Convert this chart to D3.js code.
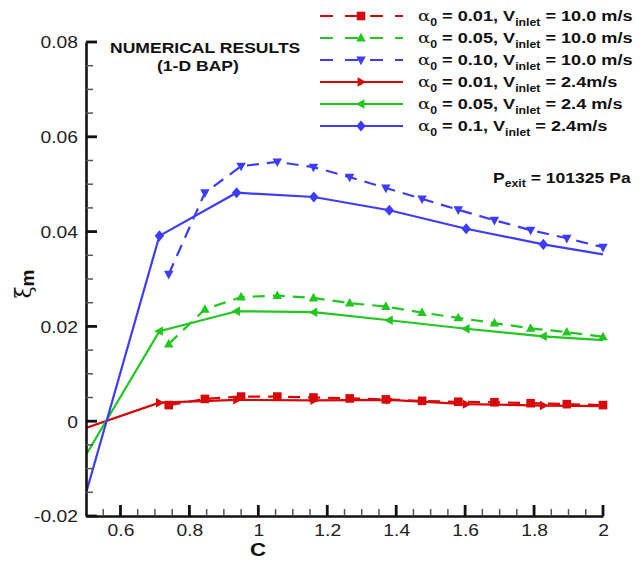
<!DOCTYPE html>
<html>
<head>
<meta charset="utf-8">
<script src="https://cdn.jsdelivr.net/npm/d3@7"></script>
</head>
<body style="margin:0">
<div id="wrapper"></div>
<script>
// data
const cDashed = [0.74, 0.845, 0.95, 1.055, 1.16, 1.265, 1.37, 1.475, 1.58, 1.685, 1.79, 1.895, 2.0]
const xiRed10 = [0.0034, 0.0047, 0.0052, 0.0052, 0.0050, 0.0048, 0.0046, 0.0043, 0.0041, 0.0040, 0.0038, 0.0036, 0.0034]
const xiGreen10 = [0.0163, 0.0236, 0.0262, 0.0265, 0.0260, 0.0249, 0.0242, 0.0229, 0.0218, 0.0207, 0.0196, 0.0188, 0.0178]
const xiBlue10 = [0.0310, 0.0482, 0.0538, 0.0547, 0.0536, 0.0515, 0.0492, 0.0469, 0.0446, 0.0424, 0.0403, 0.0386, 0.0367]

const cSolid = [0.5, 0.713, 0.937, 1.161, 1.38, 1.603, 1.827, 2.0]
const xiRed24 = [-0.0014, 0.0039, 0.0045, 0.0044, 0.0045, 0.0036, 0.0033, 0.0032]
const xiGreen24 = [-0.0071, 0.0190, 0.0232, 0.0230, 0.0213, 0.0195, 0.0179, 0.0171]
const xiBlue24 = [-0.0152, 0.0391, 0.0482, 0.0473, 0.0445, 0.0406, 0.0373, 0.0352]

const xMajorTicks = [0.6, 0.8, 1, 1.2, 1.4, 1.6, 1.8, 2]
const xTickLabels = ["0.6", "0.8", "1", "1.2", "1.4", "1.6", "1.8", "2"]
const xMinorTicks = [0.55, 0.65, 0.7, 0.75, 0.85, 0.9, 0.95, 1.05, 1.1, 1.15, 1.25, 1.3, 1.35,
  1.45, 1.5, 1.55, 1.65, 1.7, 1.75, 1.85, 1.9, 1.95]
const yMajorTicks = [-0.02, 0, 0.02, 0.04, 0.06, 0.08]
const yTickLabels = ["-0.02", "0", "0.02", "0.04", "0.06", "0.08"]
const yMinorTicks = [-0.015, -0.01, -0.005, 0.005, 0.01, 0.015, 0.025, 0.03, 0.035,
  0.045, 0.05, 0.055, 0.065, 0.07, 0.075]

const legendAlpha = ["0.01", "0.05", "0.10", "0.01", "0.05", "0.1"]
const legendPre = [", V", ",  V", ",  V", ", V", ", V", ", V"]
const legendPost = [" = 10.0 m/s", " = 10.0 m/s", " = 10.0 m/s", " = 2.4m/s", " = 2.4 m/s", " = 2.4m/s"]

const red = "#d80808", green = "#1ec81e", blue = "#3c3cff"
const font = "Liberation Sans, Arial, sans-serif"

const series = [
  { c: cDashed, xi: xiRed10, color: red, dashed: true, marker: "square" },
  { c: cDashed, xi: xiGreen10, color: green, dashed: true, marker: "up" },
  { c: cDashed, xi: xiBlue10, color: blue, dashed: true, marker: "down" },
  { c: cSolid, xi: xiRed24, color: red, dashed: false, marker: "right" },
  { c: cSolid, xi: xiGreen24, color: green, dashed: false, marker: "left" },
  { c: cSolid, xi: xiBlue24, color: blue, dashed: false, marker: "diamond" },
]

const dimensions = {
  width: 642,
  height: 561,
  margin: { top: 42, right: 39, bottom: 45, left: 86 },
}
dimensions.boundedWidth = dimensions.width - dimensions.margin.left - dimensions.margin.right
dimensions.boundedHeight = dimensions.height - dimensions.margin.top - dimensions.margin.bottom

const sx = 1.17 // the picture's type is a little stretched sideways

const wrapper = d3.select("#wrapper")
  .append("svg")
    .attr("width", dimensions.width)
    .attr("height", dimensions.height)

wrapper.append("rect")
  .attr("width", dimensions.width)
  .attr("height", dimensions.height)
  .attr("fill", "#fff")

const bounds = wrapper.append("g")
  .attr("transform", `translate(${dimensions.margin.left},${dimensions.margin.top})`)

const xScale = d3.scaleLinear()
  .domain([0.5, 2])
  .range([0, dimensions.boundedWidth])

const yScale = d3.scaleLinear()
  .domain([-0.02, 0.08])
  .range([dimensions.boundedHeight, 0])

// stretched text helper
const addText = (parent, x, y, size, weight, anchor) => parent.append("text")
  .attr("transform", `translate(${x},${y}) scale(${sx},1)`)
  .attr("font-family", font)
  .attr("font-size", size)
  .attr("font-weight", weight)
  .attr("text-anchor", anchor)
  .attr("fill", "#111")

// markers
const markerPath = (type, s) => {
  if (type === "square") return `M${-s},${-s}H${s}V${s}H${-s}Z`
  if (type === "up") return `M0,${-s * 1.2}L${s * 1.1},${s * 0.8}L${-s * 1.1},${s * 0.8}Z`
  if (type === "down") return `M0,${s * 1.2}L${s * 1.1},${-s * 0.8}L${-s * 1.1},${-s * 0.8}Z`
  if (type === "right") return `M${s * 1.2},0L${-s * 0.8},${s * 1.1}L${-s * 0.8},${-s * 1.1}Z`
  if (type === "left") return `M${-s * 1.2},0L${s * 0.8},${s * 1.1}L${s * 0.8},${-s * 1.1}Z`
  return `M0,${-s * 1.3}L${s * 1.1},0L0,${s * 1.3}L${-s * 1.1},0Z`
}

// clip to plot area
wrapper.append("defs").append("clipPath").attr("id", "plotclip")
  .append("rect")
  .attr("width", dimensions.boundedWidth + 10)
  .attr("height", dimensions.boundedHeight)

const lineGenerator = d3.line()
  .x(d => xScale(d[0]))
  .y(d => yScale(d[1]))

const plot = bounds.append("g").attr("clip-path", "url(#plotclip)")

series.forEach(s => {
  const pts = s.c.map((c, i) => [c, s.xi[i]])
  plot.append("path")
    .datum(pts)
    .attr("d", lineGenerator)
    .attr("fill", "none")
    .attr("stroke", s.color)
    .attr("stroke-width", 2.2)
    .attr("stroke-dasharray", s.dashed ? "12,8" : null)

  const markPts = s.dashed ? pts : pts.slice(1, -1)
  plot.selectAll(null)
    .data(markPts)
    .join("path")
      .attr("transform", d => `translate(${xScale(d[0])},${yScale(d[1])})`)
      .attr("d", markerPath(s.marker, 4.3))
      .attr("fill", s.color)
})

// axes: domain lines and labels
const yAxis = bounds.append("g")
  .call(d3.axisLeft(yScale).tickValues(yMajorTicks).tickSize(0).tickPadding(8)
    .tickFormat((d, i) => yTickLabels[i]))

const xAxis = bounds.append("g")
  .attr("transform", `translate(0,${dimensions.boundedHeight})`)
  .call(d3.axisBottom(xScale).tickValues(xMajorTicks).tickSize(0).tickPadding(8)
    .tickFormat((d, i) => xTickLabels[i]))

;[yAxis, xAxis].forEach(a => {
  a.select(".domain").attr("stroke", "#111").attr("stroke-width", 2.6)
  a.selectAll(".tick text")
    .attr("font-size", 16.5)
    .attr("fill", "#222")
    .attr("font-family", font)
})
yAxis.selectAll(".tick text").attr("dy", "0.36em")
  .attr("transform", `scale(${sx},1)`)
  .attr("x", -8 / sx)
xAxis.selectAll(".tick text")
  .attr("transform", `scale(${sx},1)`)
  .attr("dy", "0.71em")

// tick marks, pointing inward, drawn on top
const ticks = wrapper.append("g")
  .attr("transform", `translate(${dimensions.margin.left},${dimensions.margin.top})`)
ticks.selectAll(".ym")
  .data(yMinorTicks)
  .join("line")
    .attr("class", "ym")
    .attr("x1", 0).attr("x2", 7)
    .attr("y1", d => yScale(d)).attr("y2", d => yScale(d))
    .attr("stroke", "#555")
    .attr("stroke-width", 1.5)
ticks.selectAll(".xm")
  .data(xMinorTicks)
  .join("line")
    .attr("class", "xm")
    .attr("x1", d => xScale(d)).attr("x2", d => xScale(d))
    .attr("y1", dimensions.boundedHeight).attr("y2", dimensions.boundedHeight - 7)
    .attr("stroke", "#555")
    .attr("stroke-width", 1.5)
ticks.selectAll(".ymaj")
  .data(yMajorTicks)
  .join("line")
    .attr("class", "ymaj")
    .attr("x1", 0).attr("x2", 11)
    .attr("y1", d => yScale(d)).attr("y2", d => yScale(d))
    .attr("stroke", "#111")
    .attr("stroke-width", 2.8)
ticks.selectAll(".xmaj")
  .data(xMajorTicks)
  .join("line")
    .attr("class", "xmaj")
    .attr("x1", d => xScale(d)).attr("x2", d => xScale(d))
    .attr("y1", dimensions.boundedHeight).attr("y2", dimensions.boundedHeight - 11)
    .attr("stroke", "#111")
    .attr("stroke-width", 2.8)

// axis titles
addText(wrapper, 258, 556, 19, "bold", "middle").text("C")
const yTitle = wrapper.append("text")
  .attr("transform", `translate(31,284) rotate(-90)`)
  .attr("text-anchor", "middle")
  .attr("font-family", font)
  .attr("font-size", 22)
  .attr("fill", "#111")
yTitle.append("tspan").attr("font-family", "DejaVu Serif, serif").text("ξ")
yTitle.append("tspan").attr("font-weight", "bold").attr("font-size", 19).attr("dy", 3).text("m")

// annotations
addText(wrapper, 110, 53, 15, "bold", "start").text("NUMERICAL RESULTS")
addText(wrapper, 157, 71, 15, "bold", "start").text("(1-D BAP)")

const pText = addText(wrapper, 493, 183, 15, "bold", "start")
pText.append("tspan").text("P")
pText.append("tspan").attr("font-size", 10.5).attr("dy", 4).text("exit")
pText.append("tspan").attr("dy", -4).text(" = 101325 Pa")

// legend
const legend = wrapper.append("g")
const rowY = i => 16 + i * 22
series.forEach((s, i) => {
  const y = rowY(i)
  legend.append("line")
    .attr("x1", 320).attr("x2", 403).attr("y1", y).attr("y2", y)
    .attr("stroke", s.color)
    .attr("stroke-width", 2.2)
    .attr("stroke-dasharray", s.dashed ? "13,12" : null)
  legend.append("path")
    .attr("transform", `translate(361,${y})`)
    .attr("d", markerPath(s.marker, 4.3))
    .attr("fill", s.color)

  const t = addText(legend, 418, y + 5, 15.5, "bold", "start")
  t.append("tspan").attr("font-weight", "normal").attr("font-family", "DejaVu Serif, serif").text("α")
  t.append("tspan").attr("font-size", 10.5).attr("dy", 5).text("0")
  t.append("tspan").attr("dy", -5).text(" = " + legendAlpha[i] + legendPre[i])
  t.append("tspan").attr("font-size", 10.5).attr("dy", 5).text("inlet")
  t.append("tspan").attr("dy", -5).text(legendPost[i])
})
</script>
</body>
</html>
